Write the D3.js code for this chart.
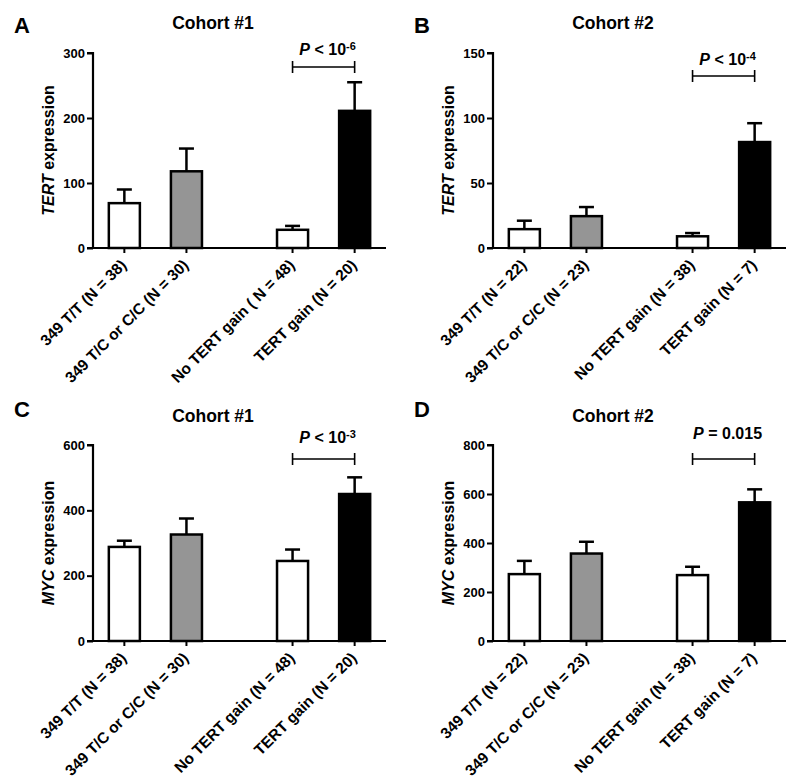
<!DOCTYPE html>
<html><head><meta charset="utf-8">
<script src="https://cdn.jsdelivr.net/npm/d3@7"></script>
<style>
html,body{margin:0;padding:0;background:#fff;}
svg text{font-family:"Liberation Sans",Arial,Helvetica,sans-serif;font-weight:bold;fill:#000;}
</style>
</head><body>
<svg id="chart" width="800" height="782"></svg>
<script>
// ---------- data ----------
const groups = ["genotype", "gain"];
const subgroups = [0, 1];
const labelsCohort1 = ["349 T/T (N = 38)", "349 T/C or C/C (N = 30)", "No TERT gain ( N = 48)", "TERT gain (N = 20)"];
const labelsCohort1C = ["349 T/T (N = 38)", "349 T/C or C/C (N = 30)", "No TERT gain (N = 48)", "TERT gain (N = 20)"];
const labelsCohort2 = ["349 T/T (N = 22)", "349 T/C or C/C (N = 23)", "No TERT gain (N = 38)", "TERT gain (N = 7)"];

const tertMeanC1 = [69, 118, 28, 211];
const tertSemC1  = [21, 35, 6, 44];
const tertMeanC2 = [14.5, 24.5, 9, 81.5];
const tertSemC2  = [6.5, 7, 2.5, 14.5];
const mycMeanC1  = [288, 326, 245, 450];
const mycSemC1   = [19, 49, 35, 51];
const mycMeanC2  = [273, 357, 269, 566];
const mycSemC2   = [54, 48, 34, 53];

const ticksA = [0, 100, 200, 300];
const ticksB = [0, 50, 100, 150];
const ticksC = [0, 200, 400, 600];
const ticksD = [0, 200, 400, 600, 800];

const pvalA = {base: "10", sup: "-6", op: "<"};
const pvalB = {base: "10", sup: "-4", op: "<"};
const pvalC = {base: "10", sup: "-3", op: "<"};
const pvalD = {base: "0.015", sup: "", op: "="};

// ---------- styles / layout ----------
const barFills = ["#ffffff", "#959595", "#ffffff", "#000000"];

const panels = [
  {letter: "A", title: "Cohort #1", gene: "TERT", mean: tertMeanC1, sem: tertSemC1, ticks: ticksA, labels: labelsCohort1, p: pvalA,
   ox: 0, top: 53, bottom: 248, titleY: 29, letterY: 33, brY: 67, pY: 55},
  {letter: "B", title: "Cohort #2", gene: "TERT", mean: tertMeanC2, sem: tertSemC2, ticks: ticksB, labels: labelsCohort2, p: pvalB,
   ox: 400, top: 53, bottom: 248, titleY: 29, letterY: 33, brY: 76, pY: 65},
  {letter: "C", title: "Cohort #1", gene: "MYC", mean: mycMeanC1, sem: mycSemC1, ticks: ticksC, labels: labelsCohort1C, p: pvalC,
   ox: 0, top: 445, bottom: 641, titleY: 422, letterY: 417, brY: 459, pY: 443},
  {letter: "D", title: "Cohort #2", gene: "MYC", mean: mycMeanC2, sem: mycSemC2, ticks: ticksD, labels: labelsCohort2, p: pvalD,
   ox: 400, top: 445, bottom: 641, titleY: 422, letterY: 417, brY: 459, pY: 439}
];

const svg = d3.select("#chart");
const plotW = 293;

panels.forEach(p => {
  const left = p.ox + 93;
  const g = svg.append("g");

  const y = d3.scaleLinear().domain([0, d3.max(p.ticks)]).range([p.bottom, p.top]);
  const xOuter = d3.scaleBand().domain(groups).range([left, left + plotW]).paddingInner(0.258).paddingOuter(0);
  const xInner = d3.scaleBand().domain(subgroups).range([0, xOuter.bandwidth()]).paddingInner(0.5).paddingOuter(0.255);
  const bx = i => xOuter(groups[Math.floor(i / 2)]) + xInner(subgroups[i % 2]);
  const cx = i => bx(i) + xInner.bandwidth() / 2;

  const rows = p.mean.map((m, i) => ({m, s: p.sem[i], i}));

  // error bars (upper only)
  const capHalf = 7.5;
  rows.forEach(r => {
    g.append("line").attr("x1", cx(r.i)).attr("x2", cx(r.i))
      .attr("y1", y(r.m)).attr("y2", y(r.m + r.s))
      .attr("stroke", "#000").attr("stroke-width", 2.5);
    g.append("line").attr("x1", cx(r.i) - capHalf).attr("x2", cx(r.i) + capHalf)
      .attr("y1", y(r.m + r.s)).attr("y2", y(r.m + r.s))
      .attr("stroke", "#000").attr("stroke-width", 2.5);
  });

  // bars
  g.selectAll("rect.bar").data(rows).join("rect")
    .attr("class", "bar")
    .attr("x", d => bx(d.i)).attr("width", xInner.bandwidth())
    .attr("y", d => y(d.m)).attr("height", d => y(0) - y(d.m))
    .attr("fill", d => barFills[d.i]).attr("stroke", "#000").attr("stroke-width", 2.5);

  // y axis
  const yAxis = g.append("g").attr("transform", `translate(${left},0)`)
    .call(d3.axisLeft(y).tickValues(p.ticks).tickSize(6).tickPadding(2).tickFormat(d3.format("d")));
  yAxis.select(".domain").attr("stroke-width", 2.2).attr("d", `M-6,${p.top}H0V${p.bottom}`);
  yAxis.selectAll(".tick line").attr("stroke-width", 2);
  yAxis.selectAll(".tick text").style("font-size", "13px").style("font-family", "'Liberation Sans',Arial,sans-serif").style("font-weight", "bold").attr("fill", "#000");

  // x axis
  g.append("line").attr("x1", left - 6).attr("x2", left + plotW).attr("y1", p.bottom).attr("y2", p.bottom)
    .attr("stroke", "#000").attr("stroke-width", 2.2);
  rows.forEach(r => {
    g.append("line").attr("x1", cx(r.i)).attr("x2", cx(r.i)).attr("y1", p.bottom).attr("y2", p.bottom + 5)
      .attr("stroke", "#000").attr("stroke-width", 2);
    g.append("text")
      .attr("transform", `translate(${cx(r.i) + 3},${p.bottom + 18}) rotate(-45)`)
      .attr("text-anchor", "end").style("font-size", "15.5px")
      .text(p.labels[r.i]);
  });

  // y label
  const yl = g.append("text")
    .attr("transform", `translate(${p.ox + 54},${(p.top + p.bottom) / 2}) rotate(-90)`)
    .attr("text-anchor", "middle").style("font-size", "16px");
  yl.append("tspan").style("font-style", "italic").text(p.gene);
  yl.append("tspan").text(" expression");

  // title and panel letter
  g.append("text").attr("x", p.ox + 213).attr("y", p.titleY).attr("text-anchor", "middle")
    .style("font-size", "17.5px").text(p.title);
  g.append("text").attr("x", p.ox + 14).attr("y", p.letterY)
    .style("font-size", "22px").text(p.letter);

  // significance bracket
  const x1 = cx(2), x2 = cx(3);
  g.append("path").attr("d", `M${x1},${p.brY - 6}V${p.brY + 6}M${x1},${p.brY}H${x2}M${x2},${p.brY - 6}V${p.brY + 6}`)
    .attr("stroke", "#000").attr("stroke-width", 1.6).attr("fill", "none");
  const pt = g.append("text").attr("x", (x1 + x2) / 2 + 4).attr("y", p.pY).attr("text-anchor", "middle").style("font-size", "16px");
  pt.append("tspan").style("font-style", "italic").text("P");
  pt.append("tspan").text(` ${p.p.op} ${p.p.base}`);
  if (p.p.sup) pt.append("tspan").attr("dy", "-0.5em").style("font-size", "11px").text(p.p.sup);
});
</script>
</body></html>
